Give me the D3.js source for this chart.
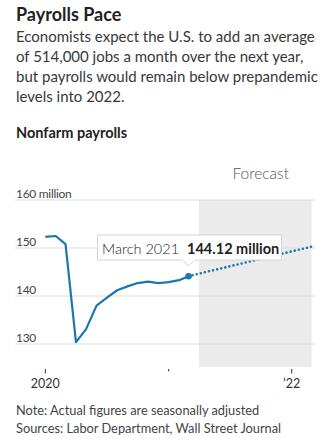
<!DOCTYPE html>
<html>
<head>
<meta charset="utf-8">
<script src="https://cdn.jsdelivr.net/npm/d3@7"></script>
<style>
  html, body { margin: 0; padding: 0; background: #fff; }
  svg { display: block; font-family: Lato, "Noto Sans", sans-serif; }
</style>
</head>
<body>
<svg id="chart" width="331" height="439"></svg>
<script>
// Monthly nonfarm payrolls, millions (seasonally adjusted)
const months = ["2020-01","2020-02","2020-03","2020-04","2020-05","2020-06","2020-07","2020-08",
                "2020-09","2020-10","2020-11","2020-12","2021-01","2021-02","2021-03"];
const payrolls = [152.3, 152.5, 150.8, 130.4, 133.1, 138.0, 139.6, 141.2,
                  142.0, 142.7, 143.0, 142.7, 142.9, 143.3, 144.12];

// Forecast path: latest actual to one year out
const forecastMonths = ["2021-03", "2022-03"];
const forecastValues = [144.12, 150.29];
const forecastSpan = ["2021-04", "2022-03"];

const yTicks = [130, 140, 150, 160];
const yTickLabels = ["130", "140", "150", "160 million"];
const xTickDates = ["2020-01", "2021-01", "2022-01"];
const xTickLabels = ["2020", "", "\u201922"];

const highlightMonth = "2021-03";
const highlightLabel = "March 2021";
const highlightValue = 144.12;

const parse = d3.timeParse("%Y-%m");
const svg = d3.select("#chart");

// Header text
svg.append("text").attr("x", 16).attr("y", 21)
  .attr("font-size", 18).attr("font-weight", 700).attr("fill", "#222")
  .text("Payrolls Pace");
const dek = ["Economists expect the U.S. to add an average",
             "of 514,000 jobs a month over the next year,",
             "but payrolls would remain below prepandemic",
             "levels into 2022."];
svg.append("g").selectAll("text").data(dek).join("text")
  .attr("x", 16).attr("y", (d, i) => 42 + i * 20)
  .attr("font-size", 15).attr("fill", "#383838").text(d => d);
svg.append("text").attr("x", 16).attr("y", 138)
  .attr("font-size", 14.5).attr("font-weight", 700).attr("fill", "#222")
  .text("Nonfarm payrolls");

// Scales
const x = d3.scaleTime()
  .domain([parse("2020-01"), parse("2022-01")])
  .range([45.3, 291.7]);
const y = d3.scaleLinear().domain([130, 160]).range([344, 200]);
const plotTop = y(160), plotBottom = 367;
const gridLeft = 15, gridRight = 315;

// Forecast shading
svg.append("rect")
  .attr("x", x(parse(forecastSpan[0])))
  .attr("y", plotTop)
  .attr("width", x(parse(forecastSpan[1])) - x(parse(forecastSpan[0])))
  .attr("height", plotBottom - plotTop)
  .attr("fill", "#ebebec");
svg.append("text")
  .attr("x", 289).attr("y", 179).attr("text-anchor", "end")
  .attr("font-size", 15.5).attr("font-weight", 300).attr("fill", "#555")
  .text("Forecast");

// Gridlines and y labels
const yAxis = svg.append("g");
yAxis.selectAll("line").data(yTicks).join("line")
  .attr("x1", gridLeft).attr("x2", gridRight)
  .attr("y1", d => y(d)).attr("y2", d => y(d))
  .attr("stroke", "#dcdcdc").attr("stroke-width", 1);
yAxis.selectAll("text").data(yTicks).join("text")
  .attr("x", 16).attr("y", d => y(d) - 2.5)
  .attr("font-size", 12).attr("fill", "#444")
  .attr("letter-spacing", -0.3)
  .text((d, i) => yTickLabels[i]);

// X axis ticks
const xAxis = svg.append("g");
xAxis.selectAll("line").data(xTickDates).join("line")
  .attr("x1", d => x(parse(d))).attr("x2", d => x(parse(d)))
  .attr("y1", 369).attr("y2", (d, i) => xTickLabels[i] ? 373.5 : 371.5)
  .attr("stroke", "#333").attr("stroke-width", 1);
xAxis.selectAll("text").data(xTickDates).join("text")
  .attr("x", d => x(parse(d))).attr("y", 388)
  .attr("text-anchor", "middle").attr("font-size", 12.5).attr("fill", "#333")
  .text((d, i) => xTickLabels[i]);

// Actual series
const series = months.map((m, i) => ({ date: parse(m), value: payrolls[i] }));
const line = d3.line().x(d => x(d.date)).y(d => y(d.value));
svg.append("path").datum(series)
  .attr("d", line).attr("fill", "none")
  .attr("stroke", "#1a78aa").attr("stroke-width", 2.2)
  .attr("stroke-linejoin", "round");

// Forecast series
const fc = forecastMonths.map((m, i) => ({ date: parse(m), value: forecastValues[i] }));
svg.append("path").datum(fc)
  .attr("d", line).attr("fill", "none")
  .attr("stroke", "#1a78aa").attr("stroke-width", 2.6)
  .attr("stroke-linecap", "round")
  .attr("stroke-dasharray", "0,4.2");

// Highlighted point with callout
const hx = x(parse(highlightMonth)), hy = y(highlightValue);
svg.append("circle").attr("cx", hx).attr("cy", hy).attr("r", 3.3).attr("fill", "#1a78aa");

const callout = svg.append("g");
const boxL = 97.5, boxR = 281.5, boxT = 235, boxB = 260;
callout.append("path")
  .attr("d", `M${boxL},${boxT}H${boxR}V${boxB}H${hx + 6}L${hx},${boxB + 6}L${hx - 6},${boxB}H${boxL}Z`)
  .attr("fill", "#fff").attr("stroke", "#d4d4d4").attr("stroke-width", 1);
const t = callout.append("text").attr("x", 102).attr("y", 254).attr("font-size", 14.5).attr("fill", "#222");
t.append("tspan").attr("font-weight", 300).text(highlightLabel);
t.append("tspan").attr("dx", 8).attr("font-weight", 700).text(highlightValue.toFixed(2) + " million");

// Footnotes
const notes = ["Note: Actual figures are seasonally adjusted",
               "Sources: Labor Department, Wall Street Journal"];
svg.append("g").selectAll("text").data(notes).join("text")
  .attr("x", 16).attr("y", (d, i) => 415 + i * 17.7)
  .attr("font-size", 12.8).attr("fill", "#444").text(d => d);
</script>
</body>
</html>
